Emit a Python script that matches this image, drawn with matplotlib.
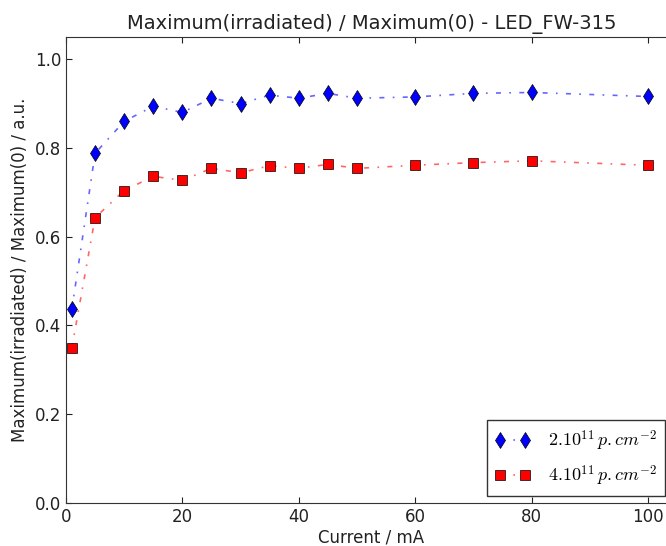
import matplotlib
matplotlib.use("Agg")
import matplotlib.pyplot as plt

current = [1, 5, 10, 15, 20, 25, 30, 35, 40, 45, 50, 60, 70, 80, 100]
ratio_2e11 = [0.436, 0.788, 0.860, 0.894, 0.880, 0.912, 0.900, 0.919, 0.912,
              0.923, 0.912, 0.915, 0.923, 0.925, 0.916]
ratio_4e11 = [0.349, 0.643, 0.704, 0.736, 0.727, 0.754, 0.744, 0.760, 0.754,
              0.763, 0.754, 0.761, 0.767, 0.771, 0.761]
labels = [r'$2.10^{11}\,p.cm^{-2}$', r'$4.10^{11}\,p.cm^{-2}$']

plt.rcParams['mathtext.fontset'] = 'cm'
plt.rcParams['xtick.direction'] = 'in'
plt.rcParams['ytick.direction'] = 'in'
plt.rcParams['xtick.top'] = True
plt.rcParams['ytick.right'] = True

fig = plt.figure(figsize=(6.66, 5.46), dpi=100)
# axes runs a bit past the right edge of the figure (cropped like the original)
ax = fig.add_axes([66 / 666, 43 / 546, 611 / 666, 466 / 546])

ax.plot(current, ratio_2e11, linestyle='-.', dashes=(3, 5, 1, 5), color=(0, 0, 1, 0.6),
        marker='d', markersize=8, markerfacecolor='b', markeredgecolor='k',
        markeredgewidth=0.5, linewidth=1.2, label=labels[0])
ax.plot(current, ratio_4e11, linestyle='-.', dashes=(3, 5, 1, 5), color=(1, 0, 0, 0.6),
        marker='s', markersize=7, markerfacecolor='r', markeredgecolor='k',
        markeredgewidth=0.5, linewidth=1.2, label=labels[1])

ax.set_xlim(0, 105)
ax.set_ylim(0, 1.05)
ax.set_xticks([0, 20, 40, 60, 80, 100])
ax.set_yticks([0.0, 0.2, 0.4, 0.6, 0.8, 1.0])
ax.tick_params(labelsize=12, colors='#222222', length=4)
for s in ax.spines.values():
    s.set_color('#333333')

ax.set_title("Maximum(irradiated) / Maximum(0) - LED_FW-315", fontsize=14, color='#222222')
ax.set_xlabel("Current / mA", fontsize=12, color='#222222', labelpad=2)
ax.set_ylabel("Maximum(irradiated) / Maximum(0) / a.u.", fontsize=12, color='#222222')

leg = ax.legend(loc='lower right', numpoints=2, fontsize=13, fancybox=False,
                framealpha=1, edgecolor='#333333', borderaxespad=0,
                borderpad=0.45, labelspacing=0.6, handletextpad=0.95,
                bbox_to_anchor=(665 / 666, 50 / 546), bbox_transform=fig.transFigure)
leg.get_frame().set_linewidth(1)

fig.savefig("out.png", dpi=100)
